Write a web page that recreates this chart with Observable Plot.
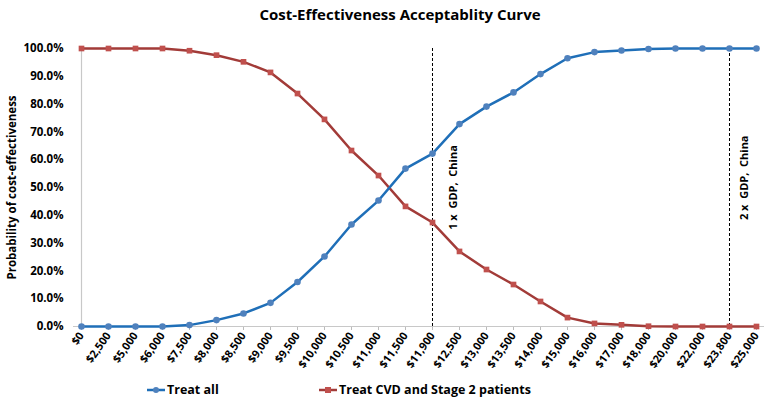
<!DOCTYPE html>
<html>
<head>
<meta charset="utf-8">
<script src="https://cdn.jsdelivr.net/npm/d3@7"></script>
<script src="https://cdn.jsdelivr.net/npm/@observablehq/plot@0.6"></script>
<style>
  html, body { margin: 0; padding: 0; background: #fff; }
  body { width: 770px; height: 406px; overflow: hidden; font-family: "Open Sans", Lato, sans-serif; }
  #title { height: 28px; line-height: 28px; text-align: center; font-weight: bold; font-size: 15px; color: #000; padding-left: 30px; box-sizing: border-box; }
  #legend { position: relative; height: 30px; font-weight: bold; font-size: 12.5px; color: #000; }
  .item { position: absolute; top: 5px; display: flex; align-items: center; }
  .item svg { margin-right: 2px; }
</style>
</head>
<body>
<div id="title">Cost-Effectiveness Acceptablity Curve</div>
<div id="chart"></div>
<div id="legend"></div>
<script>
const categories = ["$0","$2,500","$5,000","$6,000","$7,500","$8,000","$8,500","$9,000","$9,500","$10,000","$10,500","$11,000","$11,500","$11,900","$12,500","$13,000","$13,500","$14,000","$15,000","$16,000","$17,000","$18,000","$20,000","$22,000","$23,800","$25,000"];
const treatAll = [0,0,0,0,0.005,0.023,0.047,0.085,0.16,0.252,0.367,0.453,0.568,0.622,0.728,0.791,0.842,0.908,0.965,0.987,0.993,0.998,1.0,1.0,1.0,1.0];
const treatCVD = [1.0,1.0,1.0,1.0,0.992,0.976,0.952,0.914,0.838,0.745,0.633,0.543,0.432,0.374,0.27,0.205,0.151,0.09,0.032,0.011,0.006,0.001,0,0,0,0];
const seriesNames = ["Treat all", "Treat CVD and Stage 2 patients"];
const gdpLines = ["$11,900", "$23,800"];
const gdpLabels = ["1 x  GDP,  China", "2 x  GDP,  China"];
const gdpLabelY = [0.50, 0.535];
const yTicks = [0,0.1,0.2,0.3,0.4,0.5,0.6,0.7,0.8,0.9,1.0];

const blueLine = "#1f6fb8", blueDot = "#4f81bd";
const redLine = "#a23b38", redDot = "#c0504d";

const dataAll = categories.map((c, i) => ({cat: c, v: treatAll[i]}));
const dataCVD = categories.map((c, i) => ({cat: c, v: treatCVD[i]}));
const gdpData = gdpLines.map((c, i) => ({cat: c, label: gdpLabels[i], y: gdpLabelY[i]}));

const font = "'Open Sans', Lato, sans-serif";

const plot = Plot.plot({
  width: 770,
  height: 348,
  marginLeft: 73,
  marginRight: 6,
  marginTop: 20,
  marginBottom: 50,
  style: { fontFamily: font, fontSize: "11px", fontWeight: "bold", color: "#000", background: "#fff" },
  x: { type: "point", domain: categories, padding: 0 },
  y: { domain: [0, 1] },
  marks: [
    Plot.axisY({ ticks: yTicks, tickFormat: d3.format(".1%"), tickSize: 0, tickPadding: 10,
      label: "Probability of cost-effectiveness", labelAnchor: "center", labelArrow: "none", labelOffset: 66,
      fontSize: 11.5, fontWeight: "bold" }),
    Plot.axisX({ tickRotate: -55, tickSize: 4, tickPadding: 3, stroke: "#bbb", label: null, fontSize: 11, fontWeight: "bold" }),
    Plot.ruleX([categories[0]], { stroke: "#c8c8c8", strokeWidth: 1.2 }),
    Plot.ruleY([0], { stroke: "#c8c8c8", strokeWidth: 1.2 }),
    Plot.ruleX(gdpData, { x: "cat", y1: 0, y2: 1, stroke: "#000", strokeWidth: 1, strokeDasharray: "3,2" }),
    Plot.text(gdpData.slice(0, 1), { x: "cat", y: "y", text: "label", rotate: -90, dx: 21, fill: "#000", fontSize: 11, fontWeight: "bold" }),
    Plot.text(gdpData.slice(1, 2), { x: "cat", y: "y", text: "label", rotate: -90, dx: 15, fill: "#000", fontSize: 11, fontWeight: "bold" }),
    Plot.line(dataCVD, { x: "cat", y: "v", stroke: redLine, strokeWidth: 2.5 }),
    Plot.dot(dataCVD, { x: "cat", y: "v", symbol: "square", r: 3.2, fill: redDot, stroke: null }),
    Plot.line(dataAll, { x: "cat", y: "v", stroke: blueLine, strokeWidth: 2.5 }),
    Plot.dot(dataAll, { x: "cat", y: "v", symbol: "circle", r: 3.3, fill: blueDot, stroke: null })
  ]
});
document.getElementById("chart").appendChild(plot);

// legend
const legend = document.getElementById("legend");
const legendItems = [
  { name: seriesNames[0], line: blueLine, dot: blueDot, sym: "circle", left: 147 },
  { name: seriesNames[1], line: redLine, dot: redDot, sym: "square", left: 319 }
];
legendItems.forEach(it => {
  const div = document.createElement("div");
  div.className = "item";
  div.style.left = it.left + "px";
  const marker = it.sym === "circle"
    ? `<circle cx="9" cy="6" r="3" fill="${it.dot}"/>`
    : `<rect x="6" y="3" width="6" height="6" fill="${it.dot}"/>`;
  div.innerHTML = `<svg width="18" height="12"><line x1="0" x2="18" y1="6" y2="6" stroke="${it.line}" stroke-width="2.5"/>${marker}</svg><span>${it.name}</span>`;
  legend.appendChild(div);
});
</script>
</body>
</html>
